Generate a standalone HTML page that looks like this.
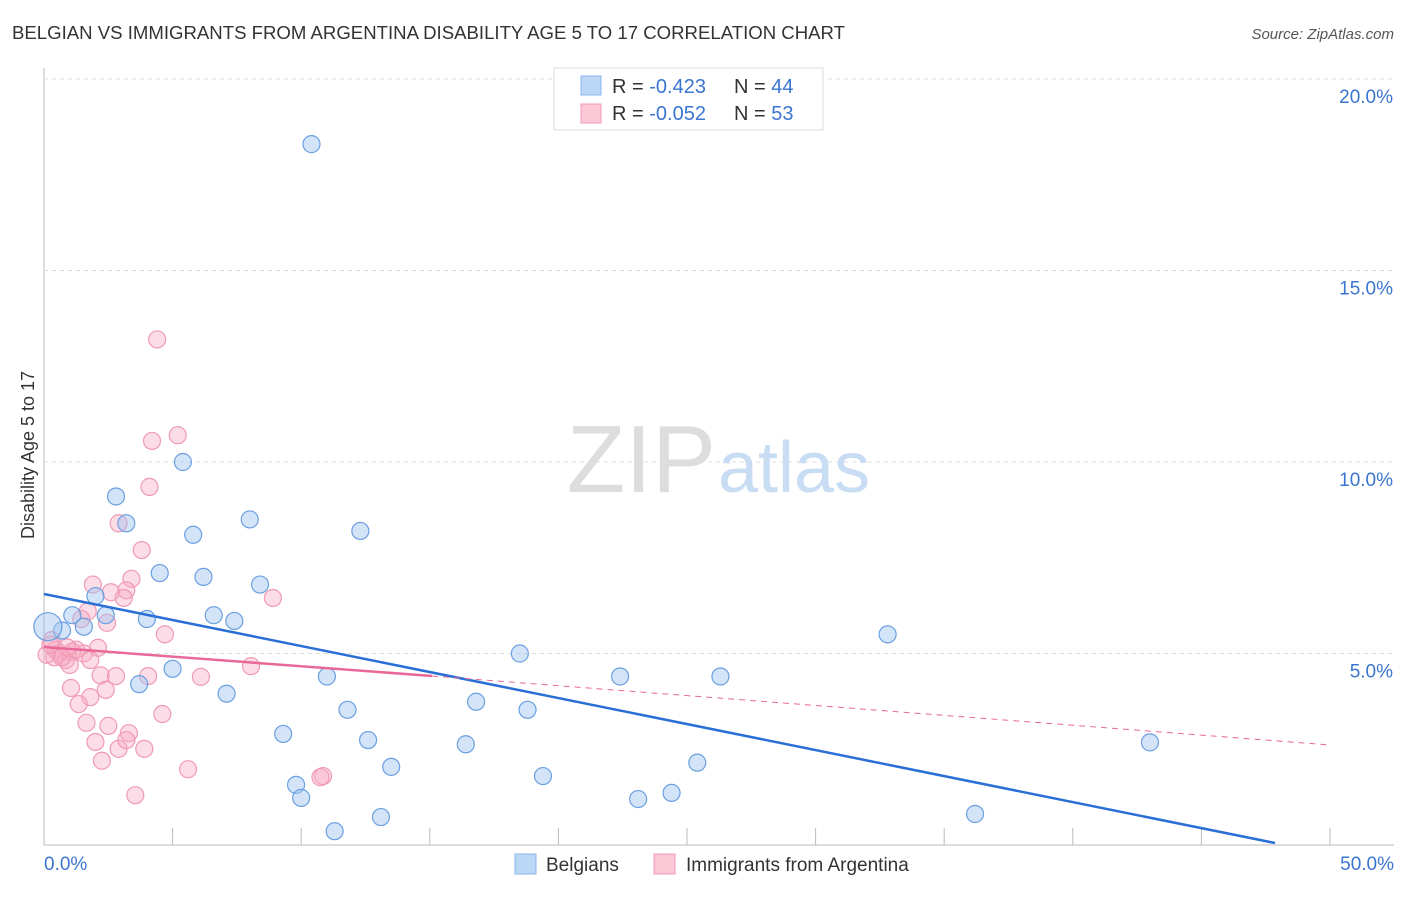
<!DOCTYPE html>
<html><head><meta charset="utf-8"><style>
body{margin:0;background:#fff;font-family:"Liberation Sans",sans-serif;}
svg text{font-family:"Liberation Sans",sans-serif;}
</style></head><body>
<svg width="1406" height="892">
<text x="12" y="39" font-size="18" fill="#333" textLength="833" lengthAdjust="spacingAndGlyphs">BELGIAN VS IMMIGRANTS FROM ARGENTINA DISABILITY AGE 5 TO 17 CORRELATION CHART</text>
<text x="1394" y="39" font-size="15" fill="#555" font-style="italic" text-anchor="end">Source: ZipAtlas.com</text>
<g id="grid"></g>
<text x="716" y="492" font-size="96" fill="#ddd" font-family="Liberation Serif" text-anchor="end">ZIP</text>
<text x="718" y="492" font-size="72" fill="#c8dcf3">atlas</text>
<text transform="translate(34,455) rotate(-90)" font-size="18" fill="#333" text-anchor="middle">Disability Age 5 to 17</text>
<g id="marks"></g>
<g>
<rect x="554" y="68" width="269" height="62" fill="#fff" stroke="#ddd"/>
<rect x="581" y="76" width="20" height="19" fill="#bcd6f6" stroke="#8ab4ec"/>
<rect x="581" y="104" width="20" height="19" fill="#fcc8d8" stroke="#f09ab5"/>
<text x="612" y="93" font-size="20" fill="#333">R = <tspan fill="#3a75d0">-0.423</tspan><tspan x="734">N = </tspan><tspan fill="#3a75d0">44</tspan></text>
<text x="612" y="120" font-size="20" fill="#333">R = <tspan fill="#3a75d0">-0.052</tspan><tspan x="734">N = </tspan><tspan fill="#3a75d0">53</tspan></text>
</g>
<g>
<rect x="515" y="854" width="21" height="20" fill="#bcd6f6" stroke="#8ab4ec"/>
<text x="546" y="871" font-size="19" fill="#333">Belgians</text>
<rect x="654" y="854" width="21" height="20" fill="#fcc8d8" stroke="#f09ab5"/>
<text x="686" y="871" font-size="19" fill="#333">Immigrants from Argentina</text>
</g>
</svg>
<script>
const xTicks=[0,5,10,15,20,25,30,35,40,45,50];
const yTicks=[5,10,15,20];
const belgX=[10.4,5.4,2.8,3.2,8.0,5.8,12.3,4.5,6.2,8.4,2.0,1.1,2.4,6.6,4.0,7.4,1.55,0.7,0.15,32.8,18.5,5.0,11.0,22.4,26.3,3.7,7.1,16.8,11.8,18.8,9.3,12.6,16.4,43.0,13.5,25.4,19.4,9.8,10.0,23.1,24.4,13.1,36.2,11.3];
const belgY=[18.3,10.0,9.1,8.4,8.5,8.1,8.2,7.1,7.0,6.8,6.5,6.0,6.0,6.0,5.9,5.85,5.7,5.6,5.7,5.5,5.0,4.6,4.4,4.4,4.4,4.2,3.95,3.74,3.53,3.53,2.9,2.74,2.63,2.68,2.04,2.15,1.8,1.57,1.23,1.2,1.36,0.73,0.81,0.36];
const argX=[4.4,5.2,4.2,4.1,2.9,3.8,1.9,3.4,2.6,3.2,3.1,1.7,8.9,1.45,2.45,4.7,0.3,2.1,0.45,0.6,1.1,1.25,1.55,0.85,1.0,0.4,0.1,8.05,2.2,2.8,6.1,4.05,1.05,2.4,1.8,1.35,4.6,1.65,2.5,3.3,2.0,2.9,3.9,2.25,5.6,3.55,10.85,10.75,3.2,0.25,0.7,0.9,1.8];
const argY=[13.2,10.7,10.55,9.35,8.4,7.7,6.8,6.95,6.6,6.65,6.45,6.1,6.45,5.9,5.8,5.5,5.35,5.15,5.1,5.0,5.05,5.1,5.0,4.83,4.7,4.9,4.97,4.67,4.43,4.41,4.39,4.41,4.1,4.05,3.86,3.68,3.42,3.19,3.11,2.92,2.69,2.51,2.51,2.2,1.98,1.3,1.8,1.77,2.74,5.23,4.9,5.16,4.83];
const NS='http://www.w3.org/2000/svg';
const X=v=>44+v*25.72, Y=v=>845-v*38.3;
function mk(t,a,p){const e=document.createElementNS(NS,t);for(const k in a)e.setAttribute(k,a[k]);p.appendChild(e);return e;}
const g=document.getElementById('grid'), m=document.getElementById('marks');
mk('line',{x1:44,y1:68,x2:44,y2:845,stroke:'#bbb'},g);
mk('line',{x1:44,y1:845,x2:1394,y2:845,stroke:'#bbb'},g);
yTicks.forEach(v=>{const l=mk('line',{x1:44,y1:Y(v),x2:1394,y2:Y(v),stroke:'#ddd','stroke-dasharray':'4,4'},g);


const t=mk('text',{x:1393,y:Y(v)+24,'font-size':19,fill:'#3a75d0','text-anchor':'end'},g);t.textContent=v.toFixed(1)+'%';

});
xTicks.forEach(v=>{const l=mk('line',{x1:X(v),y1:828,x2:X(v),y2:845,stroke:'#bbb'},g);

});
[[0,'0.0%','start',44],[50,'50.0%','end',1394]].forEach(a=>{const t=mk('text',{x:a[3],y:870,'font-size':19,fill:'#3a75d0','text-anchor':a[2]},g);t.textContent=a[1];

});
argX.forEach((x,i)=>{const c=mk('circle',{cx:X(x),cy:Y(argY[i]),r:8.5,fill:'rgba(248,170,195,0.4)',stroke:'#f09ab5','stroke-width':1.2},m);

});
belgX.forEach((x,i)=>{const c=mk('circle',{cx:X(x),cy:Y(belgY[i]),r:i==18?14:8.5,fill:'rgba(160,196,240,0.45)',stroke:'#6a9fe0','stroke-width':1.2},m);

});
let l=mk('line',{x1:X(0),y1:594,x2:1275,y2:843,stroke:'#2a6fd6','stroke-width':2.5},m);


l=mk('line',{x1:X(0),y1:647,x2:432,y2:676,stroke:'#e8689a','stroke-width':2.5},m);


l=mk('line',{x1:432,y1:676,x2:1330,y2:745,stroke:'#e8689a','stroke-width':1,'stroke-dasharray':'6,5'},m);


</script>
</body></html>
